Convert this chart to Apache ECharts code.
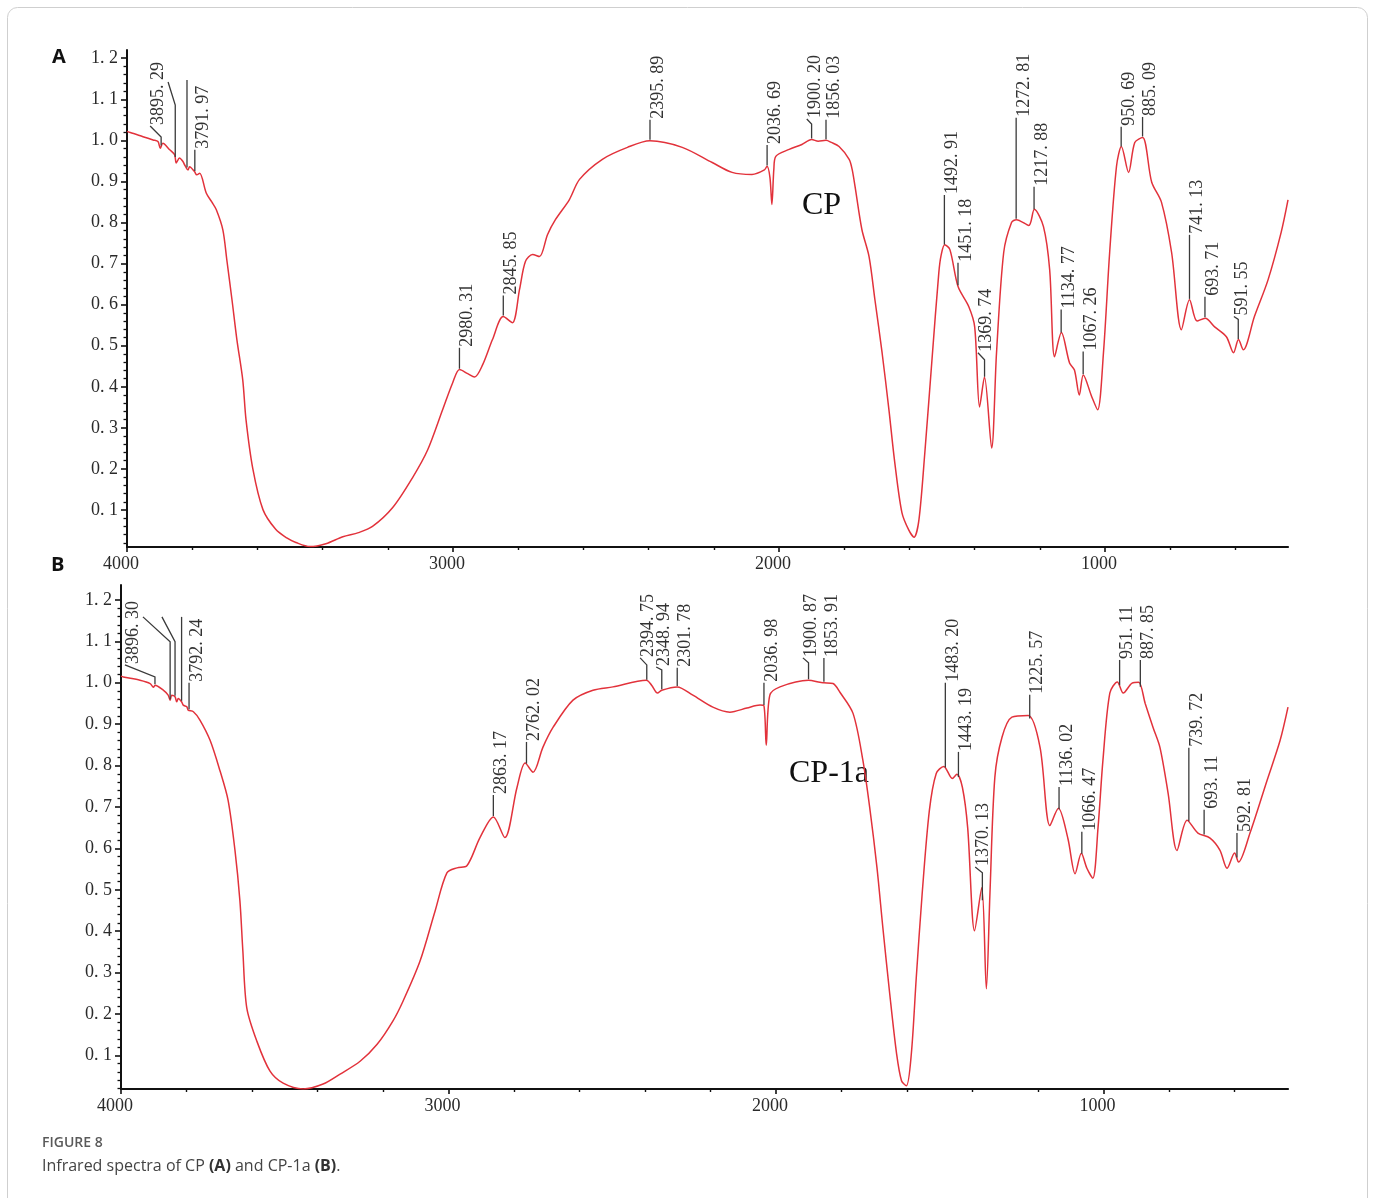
<!DOCTYPE html>
<html>
<head>
<meta charset="utf-8">
<script src="https://cdn.jsdelivr.net/npm/echarts@6/dist/echarts.min.js"></script>
<style>
  html, body { margin: 0; padding: 0; background: #fff; }
  #chart { width: 1375px; height: 1198px; }
</style>
</head>
<body>
<div id="chart"></div>
<script>
// Infrared spectra (transmittance vs wavenumber, cm-1)

// CP spectrum: [wavenumber, transmittance]
const spectrumCP = [
  [4000,1.022],[3990,1.019],[3951,1.009],[3920,1.001],[3905,0.997],[3898,0.981],[3890,0.993],
  [3869,0.977],[3854,0.965],[3849,0.945],[3839,0.957],[3828,0.948],[3823,0.94],[3813,0.928],
  [3808,0.936],[3793,0.924],[3786,0.916],[3777,0.92],[3757,0.872],[3740,0.85],[3726,0.831],
  [3706,0.782],[3694,0.71],[3678,0.612],[3663,0.515],[3645,0.417],[3635,0.32],[3614,0.2],
  [3583,0.101],[3544,0.053],[3510,0.032],[3482,0.021],[3439,0.011],[3390,0.018],[3338,0.035],
  [3290,0.045],[3247,0.06],[3185,0.106],[3124,0.179],[3078,0.246],[3032,0.344],[3001,0.41],
  [2980,0.442],[2955,0.432],[2934,0.424],[2909,0.454],[2879,0.515],[2846,0.571],[2818,0.556],
  [2796,0.637],[2778,0.705],[2756,0.722],[2735,0.717],[2710,0.771],[2686,0.807],[2643,0.856],
  [2612,0.905],[2542,0.954],[2465,0.983],[2396,0.999],[2297,0.983],[2205,0.946],[2144,0.922],
  [2083,0.917],[2045,0.928],[2037,0.937],[2028,0.91],[2022,0.844],[2016,0.93],[2010,0.961],
  [1969,0.978],[1930,0.99],[1900,1.002],[1880,0.998],[1856,1.0],[1840,0.995],[1816,0.985],
  [1785,0.954],[1776,0.93],[1767,0.888],[1746,0.783],[1724,0.717],[1706,0.612],[1684,0.483],
  [1663,0.344],[1645,0.215],[1623,0.093],[1602,0.051],[1586,0.034],[1571,0.076],[1553,0.239],
  [1531,0.466],[1510,0.678],[1503,0.72],[1492,0.746],[1476,0.734],[1451,0.644],[1418,0.595],
  [1400,0.546],[1385,0.351],[1370,0.424],[1348,0.251],[1333,0.483],[1311,0.727],[1287,0.80],
  [1272,0.807],[1234,0.793],[1217,0.832],[1189,0.79],[1170,0.685],[1155,0.473],[1134,0.532],
  [1109,0.458],[1094,0.441],[1079,0.38],[1067,0.429],[1041,0.376],[1023,0.344],[1005,0.483],
  [986,0.727],[965,0.937],[950,0.985],[928,0.922],[909,0.995],[885,1.007],[857,0.898],
  [827,0.849],[796,0.727],[766,0.539],[741,0.612],[718,0.56],[693,0.567],[664,0.546],
  [628,0.522],[606,0.483],[591,0.515],[576,0.49],[542,0.571],[500,0.661],[460,0.776],[439,0.855]
];

// CP-1a spectrum: [wavenumber, transmittance]
const spectrumCP1a = [
  [4000,1.016],[3993,1.014],[3942,1.006],[3911,0.998],[3901,0.989],[3896,0.994],[3871,0.982],
  [3856,0.97],[3850,0.958],[3845,0.97],[3835,0.966],[3830,0.954],[3825,0.962],[3815,0.954],
  [3810,0.946],[3799,0.942],[3795,0.934],[3779,0.93],[3759,0.91],[3728,0.861],[3698,0.788],
  [3673,0.716],[3652,0.595],[3637,0.474],[3628,0.353],[3616,0.215],[3585,0.134],[3545,0.062],
  [3505,0.033],[3444,0.019],[3383,0.031],[3331,0.055],[3270,0.086],[3218,0.127],[3170,0.183],
  [3139,0.231],[3087,0.328],[3041,0.449],[3005,0.541],[2974,0.553],[2944,0.558],[2904,0.626],
  [2863,0.676],[2828,0.626],[2791,0.747],[2766,0.806],[2742,0.784],[2712,0.844],[2681,0.892],
  [2620,0.958],[2559,0.982],[2498,0.99],[2396,1.006],[2380,0.994],[2362,0.975],[2349,0.982],
  [2302,0.99],[2254,0.97],[2193,0.941],[2141,0.929],[2089,0.939],[2049,0.946],[2037,0.944],
  [2030,0.849],[2019,0.97],[1988,0.99],[1901,1.006],[1866,1.001],[1854,1.0],[1826,0.998],
  [1805,0.977],[1765,0.926],[1735,0.813],[1713,0.692],[1692,0.554],[1674,0.409],[1653,0.249],
  [1632,0.104],[1617,0.039],[1602,0.027],[1587,0.104],[1572,0.287],[1554,0.49],[1532,0.691],
  [1511,0.781],[1488,0.798],[1462,0.769],[1448,0.779],[1431,0.747],[1415,0.65],[1394,0.401],
  [1372,0.505],[1358,0.261],[1347,0.491],[1332,0.772],[1310,0.869],[1280,0.917],[1230,0.921],
  [1194,0.844],[1164,0.655],[1138,0.697],[1109,0.624],[1087,0.539],[1068,0.588],[1051,0.552],
  [1033,0.528],[1017,0.65],[1002,0.813],[981,0.975],[958,1.002],[940,0.975],[913,0.999],
  [893,1.001],[873,0.95],[849,0.892],[828,0.844],[803,0.733],[776,0.595],[745,0.668],
  [712,0.637],[675,0.625],[645,0.596],[623,0.552],[600,0.589],[588,0.567],[553,0.637],
  [501,0.764],[461,0.861],[437,0.941]
];

// Labelled bands: [wavenumber, leader top, bend wavenumber, bend top]
const peaksCP = [
  [3895.29, 1.008, 3929, 1.035], [3791.97, 0.977], [2980.31, 0.495], [2845.85, 0.622],
  [2395.89, 1.05], [2036.69, 0.989], [1900.20, 1.04, 1915, 1.052], [1856.03, 1.05],
  [1492.91, 0.867], [1451.18, 0.702], [1369.74, 0.466, 1390, 0.483], [1272.81, 1.055],
  [1217.88, 0.887], [1134.77, 0.588], [1067.26, 0.486], [950.69, 1.033], [885.09, 1.057],
  [741.13, 0.77], [693.71, 0.619], [591.55, 0.564, 605, 0.571]
];
// Leaders without a printed value
const bareLeadersCP = [[3852, 1.086, 3874, 1.142], [3816, 1.147]];

const peaksCP1a = [
  [3896.30, 1.014, 3988, 1.043], [3792.24, 1.0], [2863.17, 0.729], [2762.02, 0.857],
  [2394.75, 1.043, 2415, 1.06], [2348.94, 1.031, 2366, 1.038], [2301.78, 1.036],
  [2036.98, 1.0], [1900.87, 1.048, 1918, 1.06], [1853.91, 1.06], [1483.20, 1.0],
  [1443.19, 0.833], [1370.13, 0.541, 1392, 0.555], [1225.57, 0.971], [1136.02, 0.748],
  [1066.47, 0.64], [951.11, 1.055], [887.85, 1.055], [739.72, 0.843], [693.11, 0.693],
  [592.81, 0.637]
];
const bareLeadersCP1a = [[3850, 1.099, 3933, 1.159], [3835, 1.099, 3875, 1.159], [3815, 1.159]];

// Axis ticks
const xTicks = [1000, 2000, 3000, 4000];
const xMinorTicks = [600, 800, 1200, 1400, 1600, 1800, 2200, 2400, 2600, 2800, 3200, 3400, 3600, 3800];
const yTicks = [0.1, 0.2, 0.3, 0.4, 0.5, 0.6, 0.7, 0.8, 0.9, 1.0, 1.1, 1.2];
const yMinorTicks = [];
for (let k = 1; k <= 60; k++) {
  if (k % 5 !== 0) yMinorTicks.push(Math.round(k * 2) / 100);
}

const SERIF = '"Liberation Serif", "DejaVu Serif", serif';
const SANS = '"Open Sans", "Noto Sans", sans-serif';
const RED = '#e2323b';
const INK = '#2a2a2a';
const AXIS = '#111';

const fmtBand = v => v.toFixed(2).replace('.', '. ');
const fmtY = v => v.toFixed(1).replace('.', '. ');

// Linear interpolation of a spectrum (sorted by descending wavenumber)
function valueAt(spec, wn) {
  for (let i = 0; i < spec.length - 1; i++) {
    const a = spec[i], b = spec[i + 1];
    if (wn <= a[0] && wn >= b[0]) {
      const t = (a[0] - wn) / (a[0] - b[0]);
      return a[1] + t * (b[1] - a[1]);
    }
  }
  return spec[spec.length - 1][1];
}

function xAxes(grid, min, max) {
  return [
    {
      type: 'value', gridIndex: grid, min, max, inverse: true, position: 'bottom',
      axisLine: { show: true, onZero: false, lineStyle: { color: AXIS, width: 2.2 } },
      axisTick: { show: true, length: 5, customValues: xTicks, lineStyle: { color: AXIS, width: 1.6 } },
      axisLabel: {
        customValues: xTicks, formatter: v => String(v), color: INK,
        fontFamily: SERIF, fontSize: 18, margin: 8, padding: [0, 12, 0, 0]
      },
      splitLine: { show: false }
    },
    {
      type: 'value', gridIndex: grid, min, max, inverse: true, position: 'bottom',
      axisLine: { show: false, onZero: false },
      axisTick: { show: true, length: 3, customValues: xMinorTicks, lineStyle: { color: AXIS, width: 1.4 } },
      axisLabel: { show: false },
      splitLine: { show: false }
    }
  ];
}

function yAxes(grid, min, max) {
  return [
    {
      type: 'value', gridIndex: grid, min, max, position: 'left',
      axisLine: { show: true, onZero: false, lineStyle: { color: AXIS, width: 2 } },
      axisTick: { show: true, length: 6, customValues: yTicks, lineStyle: { color: AXIS, width: 1.6 } },
      axisLabel: {
        customValues: yTicks, formatter: fmtY, color: INK,
        fontFamily: SERIF, fontSize: 18, margin: 9
      },
      splitLine: { show: false }
    },
    {
      type: 'value', gridIndex: grid, min, max, position: 'left',
      axisLine: { show: false, onZero: false },
      axisTick: { show: true, length: 3.5, customValues: yMinorTicks, lineStyle: { color: AXIS, width: 1.3 } },
      axisLabel: { show: false },
      splitLine: { show: false }
    }
  ];
}

function spectrumSeries(spec, axisIndex) {
  return {
    type: 'line', xAxisIndex: axisIndex, yAxisIndex: axisIndex,
    data: spec, showSymbol: false, symbol: 'none',
    smooth: 0.3,
    lineStyle: { color: RED, width: 1.5 }, z: 2, silent: true
  };
}

// Leader lines with vertical band labels
function leaderSeries(spec, peaks, bare, axisIndex) {
  const rows = peaks.map(p => ({ p, text: true })).concat(bare.map(p => ({ p, text: false })));
  return {
    type: 'custom', coordinateSystem: 'cartesian2d',
    xAxisIndex: axisIndex, yAxisIndex: axisIndex, clip: false, silent: true, z: 3,
    encode: { x: 0, y: 1 },
    data: rows.map(r => [r.p[0], r.p[1]]),
    renderItem: function (params, api) {
      const row = rows[params.dataIndex];
      const [wn, top, bendWn, bendTop] = row.p;
      const base = api.coord([wn, valueAt(spec, wn)]);
      const knee = api.coord([wn, top]);
      const pts = [[base[0], base[1] - 1], knee];
      if (bendWn !== undefined) pts.push(api.coord([bendWn, bendTop]));
      const end = pts[pts.length - 1];
      const children = [{
        type: 'polyline', shape: { points: pts },
        style: { stroke: '#3a3a3a', lineWidth: 1.3, fill: null }
      }];
      if (row.text) {
        children.push({
          type: 'text', x: end[0] - 1, y: end[1] - 1, rotation: Math.PI / 2,
          style: {
            text: fmtBand(wn), x: 0, y: 0, align: 'left', verticalAlign: 'top',
            font: '18px ' + SERIF, fill: '#333'
          }
        });
      }
      return { type: 'group', children };
    }
  };
}

const chart = echarts.init(document.getElementById('chart'), null, { renderer: 'canvas' });

const option = {
  animation: false,
  backgroundColor: '#fff',
  grid: [
    { left: 127, right: 87, top: 50, height: 497, containLabel: false },
    { left: 121, right: 87, top: 585, height: 504, containLabel: false }
  ],
  xAxis: [].concat(xAxes(0, 439, 4000), xAxes(1, 437, 4000)),
  yAxis: [].concat(yAxes(0, 0.010, 1.220), yAxes(1, 0.019, 1.236)),
  series: [
    spectrumSeries(spectrumCP, 0),
    leaderSeries(spectrumCP, peaksCP, bareLeadersCP, 0),
    spectrumSeries(spectrumCP1a, 2),
    leaderSeries(spectrumCP1a, peaksCP1a, bareLeadersCP1a, 2)
  ],
  graphic: [
    {
      type: 'rect', silent: true, z: -1,
      shape: { x: 7.5, y: 7.5, width: 1360, height: 1240, r: 10 },
      style: { fill: 'none', stroke: '#cfcfcf', lineWidth: 1 }
    },
    { type: 'text', x: 52, y: 57, style: { text: 'A', font: 'bold 20px ' + SANS, fill: '#111', verticalAlign: 'middle' } },
    { type: 'text', x: 51, y: 565, style: { text: 'B', font: 'bold 20px ' + SANS, fill: '#111', verticalAlign: 'middle' } },
    { type: 'text', x: 802, y: 206, style: { text: 'CP', font: '32px ' + SERIF, fill: '#111', verticalAlign: 'middle' } },
    { type: 'text', x: 789, y: 774, style: { text: 'CP-1a', font: '32px ' + SERIF, fill: '#111', verticalAlign: 'middle' } },
    {
      type: 'text', x: 42, y: 1143,
      style: { text: 'FIGURE 8', font: '600 14px ' + SANS, fill: '#5a5a5a', verticalAlign: 'middle' }
    },
    {
      type: 'text', x: 42, y: 1166,
      style: {
        text: 'Infrared spectra of CP {b|(A)} and CP-1a {b|(B)}.',
        font: '16px ' + SANS, fill: '#444', verticalAlign: 'middle',
        rich: { b: { fontWeight: 'bold', fontSize: 16, fontFamily: SANS, fill: '#333' } }
      }
    }
  ]
};

chart.setOption(option);
</script>
</body>
</html>
